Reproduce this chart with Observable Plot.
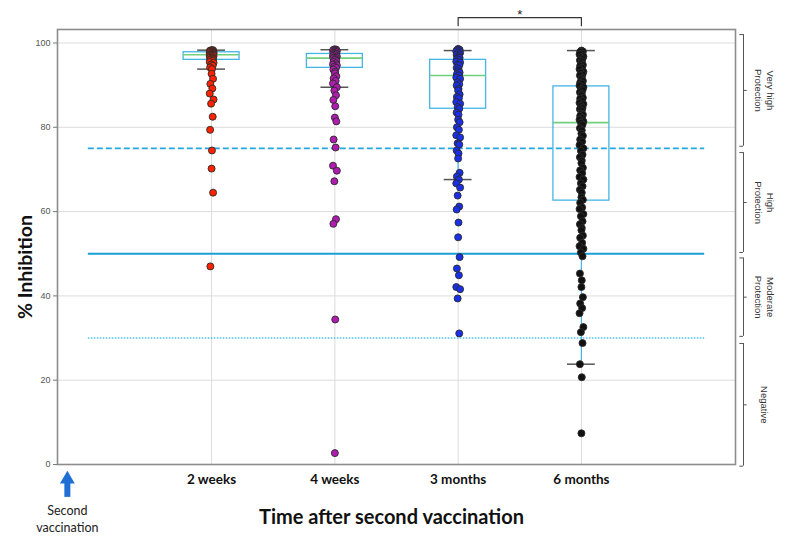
<!DOCTYPE html>
<html><head><meta charset="utf-8">
<script src="https://cdn.jsdelivr.net/npm/d3@7"></script>
<script src="https://cdn.jsdelivr.net/npm/@observablehq/plot@0.6"></script>
<style>body{margin:0;background:#fff} #chart{width:788px;height:543px}</style>
</head><body><div id="chart"></div>
<script>
// ---- data ----
const groups = ["2 weeks", "4 weeks", "3 months", "6 months"];
const groupPos = [1, 2, 3, 4];
const groupColors = ["#ff2200", "#b01cb0", "#1a30e8", "#111111"];

const twoWeeks = [98.3,98.3,98.2,98.2,98.1,98.0,98.0,97.9,97.9,97.8,97.8,97.7,97.7,97.6,97.6,97.5,97.4,97.4,97.3,97.3,97.2,97.2,97.1,97.0,96.9,96.9,96.8,96.6,96.5,96.4,96.2,96.1,96.0,95.8,95.5,95.3,94.9,94.6,94.2,93.8,
  92.7,91.5,90.3,89.2,88.0,86.6,85.6,82.5,79.4,74.5,70.2,64.5,47.0];
const fourWeeks = [98.5,98.4,98.4,98.3,98.2,98.1,98.0,97.9,97.7,97.6,97.5,97.4,97.2,97.1,96.9,96.8,96.6,96.5,96.4,96.2,96.0,95.7,95.5,95.2,94.9,94.7,94.4,94.1,93.7,93.2,92.8,92.1,91.6,91.0,90.4,89.5,
  88.7,87.6,86.5,85.0,82.3,81.4,77.1,75.2,70.9,69.7,67.2,58.2,57.1,34.4,2.7];
const threeMonths = [98.6,98.4,98.3,98.1,98.0,97.7,97.6,97.3,97.2,96.9,96.6,96.5,96.2,96.0,
  95.6,95.4,94.9,94.7,94.1,93.8,93.3,93.0,92.6,92.3,
  91.8,91.5,90.7,90.2,89.9,89.1,88.7,87.8,87.2,86.9,86.0,85.6,84.8,84.4,
  83.5,83.0,81.8,81.2,80.0,79.4,78.1,77.6,76.2,75.9,74.5,73.8,72.6,
  69.2,68.3,67.6,66.7,65.7,63.8,61.2,60.5,57.4,53.9,49.2,46.5,44.9,42.1,41.6,39.4,31.1];
const sixMonths = [98.2,98.0,97.9,97.5,97.3,96.8,96.6,96.2,95.9,95.7,95.2,94.8,94.6,94.1,93.8,93.2,93.0,92.5,92.3,91.7,91.4,91.0,90.6,90.4,89.9,
  89.5,89.1,88.8,88.3,87.9,87.6,87.0,86.8,86.3,85.8,85.5,85.1,84.6,84.3,83.9,83.3,83.0,82.7,82.2,81.8,81.4,81.1,
  80.6,79.8,79.3,78.5,78.0,77.1,76.6,75.8,75.0,74.4,73.5,72.9,72.1,71.5,70.4,69.8,69.1,68.2,67.6,66.7,66.0,65.2,64.5,63.4,62.8,
  62.1,61.0,60.6,59.4,58.9,57.7,57.0,56.1,55.6,54.3,53.8,52.6,51.8,51.2,50.3,49.4,45.3,43.7,42.1,39.7,38.2,37.1,35.9,32.6,31.4,28.8,23.8,20.7,7.4];

const q1 = [96.0, 94.1, 84.4, 62.6];
const median = [97.2, 96.4, 92.3, 81.1];
const q3 = [97.8, 97.4, 96.0, 89.7];
const whiskerLo = [93.8, 89.5, 67.6, 23.8];
const whiskerHi = [98.3, 98.4, 98.2, 98.2];

const thresholds = [75, 50, 30];
const yTicks = [0, 20, 40, 60, 80, 100];
const bandNames = ["Very high\nProtection", "High\nProtection", "Moderate\nProtection", "Negative"];
const bandLo = [75.5, 50.3, 30.4, -0.4];
const bandHi = [102, 74, 49, 28.7];
const sigPair = ["3 months", "6 months"];

// ---- tables built from the arrays ----
const series = [twoWeeks, fourWeeks, threeMonths, sixMonths];
const points = series.flatMap((vals, gi) => vals.map((v, i) => ({group: groups[gi], pos: groupPos[gi], value: v, i})));
const boxes = groups.map((g, i) => ({group: g, pos: groupPos[i], q1: q1[i], med: median[i], q3: q3[i], lo: whiskerLo[i], hi: whiskerHi[i]}));
const bands = bandNames.map((n, i) => ({name: n, lo: bandLo[i], hi: bandHi[i], mid: (bandLo[i] + bandHi[i]) / 2}));
const sx = sigPair.map(g => groupPos[groups.indexOf(g)]);
const sigLine = [{x: sx[0], y: 104.1}, {x: sx[0], y: 106}, {x: sx[1], y: 106}, {x: sx[1], y: 104.1}];

const jit = [0, 0.012, -0.01, 0.006, -0.015, 0.016, -0.004, 0.009, -0.012, 0.003];
const hw = 0.227, cw = 0.113;       // box half width, cap half width (x units)
const bx = 5.315;                    // bracket column
const arrowX = -0.17;
const cyan = "#45b5e6";

const chart = Plot.plot({
  width: 788, height: 543,
  marginTop: 29, marginBottom: 79, marginLeft: 57, marginRight: 53,
  x: {domain: [-0.25, 5.25]},
  y: {domain: [0, 103.2]},
  color: {domain: groups, range: groupColors},
  style: {fontFamily: "Liberation Sans", background: "#fff"},
  marks: [
    Plot.ruleY(yTicks.filter(d => d > 0), {stroke: "#dcdcdc", strokeWidth: 1}),
    Plot.ruleX(groupPos, {stroke: "#dcdcdc", strokeWidth: 1}),
    Plot.frame({stroke: "#8c8c8c", strokeWidth: 1.6}),
    Plot.ruleY([thresholds[0]], {x1: 0, x2: 5, stroke: "#25a8e0", strokeWidth: 1.8, strokeDasharray: "6,3"}),
    Plot.ruleY([thresholds[1]], {x1: 0, x2: 5, stroke: "#1a9fd6", strokeWidth: 1.8}),
    Plot.ruleY([thresholds[2]], {x1: 0, x2: 5, stroke: "#4cc0ef", strokeWidth: 1.5, strokeDasharray: "1.5,1.5"}),
    // boxes
    Plot.ruleX(boxes, {x: "pos", y1: "lo", y2: "q1", stroke: cyan, strokeWidth: 1.2}),
    Plot.ruleX(boxes, {x: "pos", y1: "q3", y2: "hi", stroke: cyan, strokeWidth: 1.2}),
    Plot.rect(boxes, {x1: d => d.pos - hw, x2: d => d.pos + hw, y1: "q1", y2: "q3", fill: "none", stroke: cyan, strokeWidth: 1.3}),
    Plot.ruleY(boxes, {y: "med", x1: d => d.pos - hw, x2: d => d.pos + hw, stroke: "#72d07c", strokeWidth: 1.6}),
    Plot.ruleY(boxes, {y: "lo", x1: d => d.pos - cw, x2: d => d.pos + cw, stroke: "#555", strokeWidth: 1.5}),
    Plot.ruleY(boxes, {y: "hi", x1: d => d.pos - cw, x2: d => d.pos + cw, stroke: "#555", strokeWidth: 1.5}),
    // points
    Plot.dot(points, {x: d => d.pos + jit[d.i % jit.length], y: "value", fill: "group", stroke: "#2a2a2a", strokeWidth: 0.9, r: 3.5}),
    // axes
    Plot.axisY(yTicks, {tickSize: 4, tickPadding: 3, fontSize: 9, fill: "#555", stroke: "#777", label: null}),
    Plot.axisX(groupPos, {tickSize: 0, tickPadding: 10, tickFormat: d => groups[groupPos.indexOf(d)], fontSize: 13.5, fontWeight: "bold", fontFamily: "Lato", fill: "#111", label: null}),
    Plot.text(["% Inhibition"], {frameAnchor: "left", textAnchor: "middle", lineAnchor: "middle", dx: -32, dy: 20, rotate: -90, fontSize: 19.5, fontWeight: "bold", fontFamily: "Lato", fill: "#111"}),
    Plot.text(["Time after second vaccination"], {frameAnchor: "bottom", lineAnchor: "middle", dy: 53, dx: -5, fontSize: 20, fontWeight: "bold", fontFamily: "Lato", fill: "#111"}),
    // second vaccination arrow
    Plot.ruleX([arrowX], {y1: -4.1, y2: -7.8, stroke: "#1f6fd4", strokeWidth: 6}),
    Plot.dot([arrowX], {x: d => d, y: -3.5, symbol: "triangle", r: 5.5, fill: "#1f6fd4", stroke: "none"}),
    Plot.text(["Second\nvaccination"], {x: arrowX, frameAnchor: "bottom", lineAnchor: "middle", dy: 53.5, fontSize: 12.5, lineHeight: 1.4, fontFamily: "Lato", fill: "#222"}),
    // protection brackets
    Plot.ruleX(bands, {x: bx, y1: "lo", y2: "hi", stroke: "#555", strokeWidth: 1}),
    Plot.ruleY(bands, {y: "lo", x1: bx - 0.03, x2: bx, stroke: "#555", strokeWidth: 1}),
    Plot.ruleY(bands, {y: "hi", x1: bx - 0.03, x2: bx, stroke: "#555", strokeWidth: 1}),
    Plot.ruleY(bands, {y: "mid", x1: bx, x2: bx + 0.03, stroke: "#555", strokeWidth: 1}),
    Plot.text(bands, {x: 5.485, y: "mid", text: "name", rotate: 90, fontSize: 9.5, lineHeight: 1.2, fill: "#333"}),
    // significance bracket
    Plot.line(sigLine, {x: "x", y: "y", stroke: "#333", strokeWidth: 1.2}),
    Plot.text(["*"], {x: (sx[0] + sx[1]) / 2, y: 106.6, fontSize: 13, fill: "#222"})
  ]
});
document.getElementById("chart").append(chart);
</script>
</body></html>
